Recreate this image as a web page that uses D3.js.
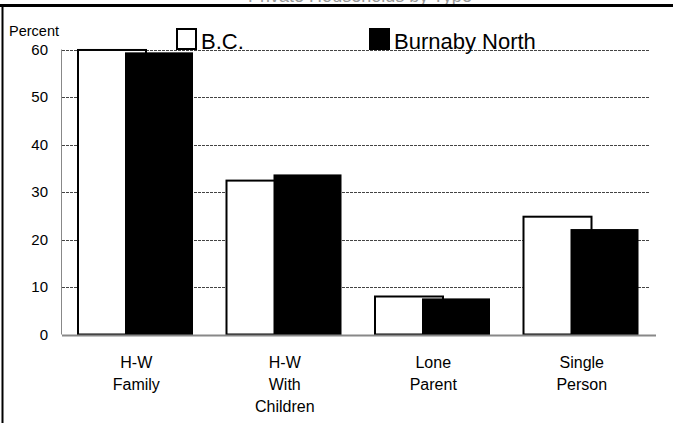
<!DOCTYPE html>
<html>
<head>
<meta charset="utf-8">
<script src="https://cdn.jsdelivr.net/npm/d3@7"></script>
<style>
    body { margin: 0; background: #fff; }
    svg { display: block; font-family: "Liberation Sans", Arial, sans-serif; }
</style>
</head>
<body>
<script>
// chart data
var categories = [['H-W', 'Family'], ['H-W', 'With', 'Children'], ['Lone', 'Parent'], ['Single', 'Person']];
var bcValues = [59.9, 32.4, 8.0, 24.8];
var burnabyValues = [59.4, 33.7, 7.6, 22.2];
var yTicks = [0, 10, 20, 30, 40, 50, 60];
var seriesNames = ['B.C.', 'Burnaby North'];

var width = 678, height = 423;
var svg = d3.select('body').append('svg').attr('width', width).attr('height', height);

var x = d3.scaleBand().domain(d3.range(categories.length)).range([62, 656]);
var y = d3.scaleLinear().domain([0, 60]).range([334.5, 49.5]);

// frame + title (the title sits mostly above the top edge, as in the original)
svg.append('text').attr('x', 360).attr('y', 2).attr('text-anchor', 'middle')
    .style('font-size', '18px').style('fill', '#999')
    .text('Private Households by Type');
svg.append('line').attr('x1', 0).attr('x2', 673).attr('y1', 5.5).attr('y2', 5.5)
    .style('stroke', '#000').style('stroke-width', 3);
svg.append('line').attr('x1', 2.5).attr('x2', 2.5).attr('y1', 5).attr('y2', height)
    .style('stroke', '#000').style('stroke-width', 2);

// gridlines
svg.selectAll('.grid').data(yTicks.filter(function(d) { return d > 0; }))
    .enter().append('line').attr('class', 'grid')
    .attr('x1', 62).attr('x2', 650)
    .attr('y1', function(d) { return Math.round(y(d)) + 0.5; })
    .attr('y2', function(d) { return Math.round(y(d)) + 0.5; })
    .style('stroke', '#444').style('stroke-width', 1).style('stroke-dasharray', '3,1');

// y axis line
svg.append('line').attr('x1', 61.5).attr('x2', 61.5).attr('y1', y(60)).attr('y2', y(0))
    .style('stroke', '#888').style('stroke-width', 1);

var yAxis = d3.axisLeft(y).tickValues(yTicks).tickSize(0);
var gy = svg.append('g').attr('transform', 'translate(48,0)').call(yAxis);
gy.select('.domain').remove();
gy.selectAll('text').style('font-size', '15px').style('fill', '#000').attr('x', 0);

svg.append('text').attr('x', 9).attr('y', 36).style('font-size', '14.5px').text('Percent');

// bars: white B.C. first, black Burnaby North overlaps it
svg.selectAll('.bc').data(bcValues).enter().append('rect').attr('class', 'bc')
    .attr('x', function(d, i) { return x(i) + 16; })
    .attr('width', 68)
    .attr('y', function(d) { return y(d); })
    .attr('height', function(d) { return y(0) - y(d); })
    .style('fill', '#fff').style('stroke', '#000').style('stroke-width', 2);

svg.selectAll('.bn').data(burnabyValues).enter().append('rect').attr('class', 'bn')
    .attr('x', function(d, i) { return x(i) + 63; })
    .attr('width', 68)
    .attr('y', function(d) { return y(d); })
    .attr('height', function(d) { return y(0) - y(d) + 1; })
    .style('fill', '#000');

svg.append('line').attr('x1', 62).attr('x2', 656).attr('y1', y(0) + 1).attr('y2', y(0) + 1)
    .style('stroke', '#888').style('stroke-width', 2);

// category labels
var cats = svg.selectAll('.cat').data(categories).enter().append('text').attr('class', 'cat')
    .attr('text-anchor', 'middle').style('font-size', '16px')
    .attr('transform', function(d, i) { return 'translate(' + (x(i) + x.bandwidth() / 2) + ',368)'; });
cats.selectAll('tspan').data(function(d) { return d; }).enter().append('tspan')
    .attr('x', 0).attr('y', function(d, i) { return i * 22; }).text(function(d) { return d; });

// legend
var legendX = [177, 370];
var leg = svg.selectAll('.leg').data(seriesNames).enter().append('g').attr('class', 'leg')
    .attr('transform', function(d, i) { return 'translate(' + legendX[i] + ',29)'; });
leg.append('rect').attr('width', 19).attr('height', 20)
    .style('fill', function(d, i) { return i === 0 ? '#fff' : '#000'; })
    .style('stroke', '#000').style('stroke-width', 2);
leg.append('text').attr('x', 24).attr('y', 20).style('font-size', '22px')
    .text(function(d) { return d; });
</script>
</body>
</html>
